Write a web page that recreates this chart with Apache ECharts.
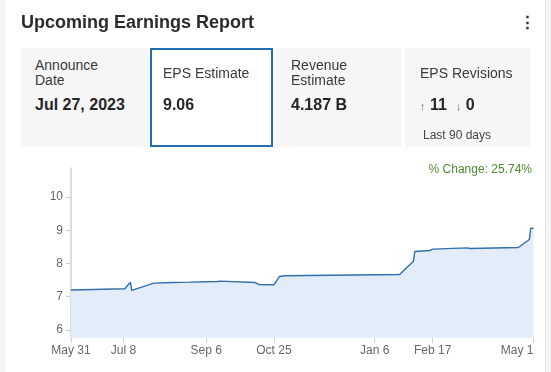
<!DOCTYPE html>
<html>
<head>
<meta charset="utf-8">
<script src="https://cdn.jsdelivr.net/npm/echarts@6/dist/echarts.min.js"></script>
<style>
  html, body { margin: 0; padding: 0; }
  body { width: 551px; height: 372px; background: #f4f4f4; position: relative; overflow: hidden;
         font-family: "Liberation Sans", Arial, sans-serif; color: #333; }
  #card { position: absolute; left: 5px; top: 0; width: 540px; height: 372px; background: #fff;
          border-right: 1px solid #e2e2e2; }
  #title { position: absolute; left: 21px; top: 12px; font-size: 18px; font-weight: bold; color: #2b2b2b; }
  #menu { position: absolute; left: 519px; top: 12px; font-size: 17px; font-weight: bold; color: #333; }
  .tile { position: absolute; top: 48px; height: 99px; background: #f6f6f6; box-sizing: border-box; }
  .lbl { position: absolute; font-size: 14px; line-height: 15px; color: #3a3a3a; }
  .val { position: absolute; font-size: 16px; font-weight: bold; color: #262626; }
  #chart { position: absolute; left: 0; top: 0; width: 551px; height: 372px; }
</style>
</head>
<body>
<div id="card"></div>
<div id="chart"></div>
<div id="title">Upcoming Earnings Report</div>
<div id="menu">⋮</div>

<div class="tile" style="left:21px;width:127px;">
  <div class="lbl" style="left:14px;top:10px;">Announce<br>Date</div>
  <div class="val" style="left:14px;top:48px;">Jul 27, 2023</div>
</div>
<div class="tile" style="left:150px;width:123px;background:#fff;border:2px solid #1f6db3;">
  <div class="lbl" style="left:11px;top:16px;">EPS Estimate</div>
  <div class="val" style="left:11px;top:46px;">9.06</div>
</div>
<div class="tile" style="left:276px;width:125px;">
  <div class="lbl" style="left:15px;top:10px;">Revenue<br>Estimate</div>
  <div class="val" style="left:15px;top:48px;">4.187 B</div>
</div>
<div class="tile" style="left:405px;width:125px;">
  <div class="lbl" style="left:15px;top:18px;">EPS Revisions</div>
  <div class="val" style="left:15px;top:48px;"><span style="font-size:11px;font-weight:normal;color:#777;">↑</span> 11 &nbsp;<span style="font-size:11px;font-weight:normal;color:#777;">↓</span> 0</div>
  <div class="lbl" style="left:18px;top:80px;font-size:12px;color:#444;">Last 90 days</div>
</div>

<script>
// ---- data ----
var dates = ['2022-05-31','2022-07-09','2022-07-13','2022-07-14','2022-07-30','2022-07-31',
             '2022-08-12','2022-08-25','2022-09-14','2022-09-16','2022-10-11','2022-10-14',
             '2022-10-25','2022-10-29','2022-11-02','2023-01-24','2023-02-03','2023-02-04',
             '2023-02-15','2023-02-17','2023-03-14','2023-03-16','2023-04-20','2023-04-28',
             '2023-04-29','2023-05-01'];
var epsValues = [7.205,7.24,7.44,7.19,7.41,7.35,
                 7.43,7.44,7.46,7.47,7.43,7.37,
                 7.36,7.61,7.63,7.67,8.07,8.36,
                 8.39,8.43,8.47,8.45,8.48,8.72,
                 9.06,9.06];
var tickDates = ['2022-05-31','2022-07-08','2022-09-06','2022-10-25','2023-01-06','2023-02-17','2023-05-01'];
var tickLabels = ['May 31','Jul 8','Sep 6','Oct 25','Jan 6','Feb 17','May 1'];
var yTicks = [6, 7, 8, 9, 10];
var changeText = '% Change: 25.74%';

function dayNum(s) {
  var p = s.split('-');
  return Date.UTC(+p[0], +p[1] - 1, +p[2]) / 86400000;
}
var base = dayNum(dates[0]);
var seriesData = dates.map(function (d, i) { return [dayNum(d) - base, epsValues[i]]; });
var tickPos = tickDates.map(function (d) { return dayNum(d) - base; });

var chart = echarts.init(document.getElementById('chart'));
chart.setOption({
  animation: false,
  title: {
    text: changeText, right: 14, top: 159,
    textStyle: { fontSize: 12, fontWeight: 'normal', color: '#4d8a2f', fontFamily: 'Liberation Sans, Arial, sans-serif' }
  },
  grid: { left: 71, right: 17.5, top: 168, bottom: 34 },
  xAxis: {
    type: 'value',
    min: 0,
    max: tickPos[tickPos.length - 1],
    axisLine: { show: false },
    splitLine: { show: false },
    axisTick: { show: true, customValues: tickPos, length: 5, lineStyle: { color: '#cfcfcf' } },
    axisLabel: {
      customValues: tickPos,
      alignMaxLabel: 'right',
      color: '#666', fontSize: 12, margin: 7, fontFamily: 'Liberation Sans, Arial, sans-serif',
      formatter: function (v) {
        var i = tickPos.indexOf(Math.round(v));
        return i >= 0 ? tickLabels[i] : '';
      }
    }
  },
  yAxis: {
    type: 'value',
    min: 5.76,
    max: 10.87,
    axisLine: { show: true, lineStyle: { color: '#d3d3d3', width: 1.5 } },
    splitLine: { show: false },
    axisTick: { show: true, customValues: yTicks, length: 5, lineStyle: { color: '#cfcfcf' } },
    axisLabel: { customValues: yTicks, color: '#666', fontSize: 12, margin: 8, fontFamily: 'Liberation Sans, Arial, sans-serif' }
  },
  series: [{
    type: 'line',
    data: seriesData,
    showSymbol: false,
    lineStyle: { color: '#326fae', width: 1.4 },
    areaStyle: { color: '#e2edf9', opacity: 1, origin: 'start' }
  }]
});
</script>
</body>
</html>
